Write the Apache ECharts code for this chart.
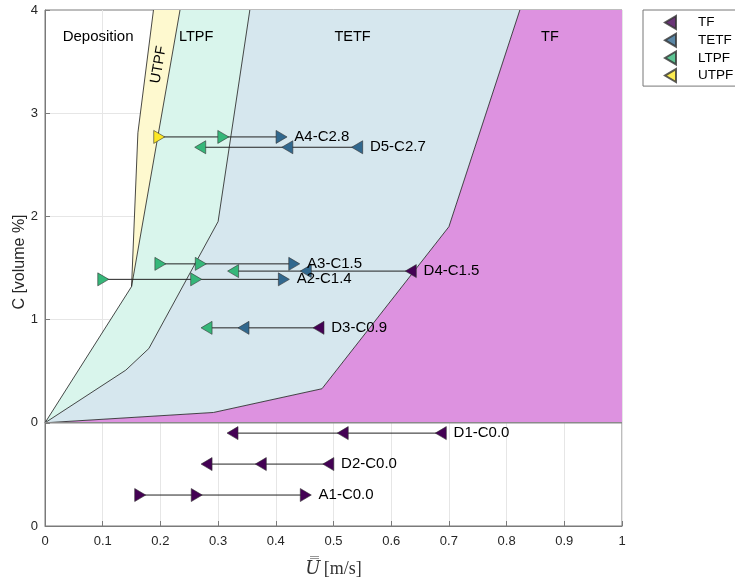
<!DOCTYPE html>
<html>
<head>
<meta charset="utf-8">
<script src="https://cdn.jsdelivr.net/npm/echarts@6/dist/echarts.min.js"></script>
<style>html,body{margin:0;padding:0;background:#fff;}#c{width:735px;height:578px;}</style>
</head>
<body>
<div id="c"></div>
<script>
// ---- data ----
const xTickValues = [0, 0.1, 0.2, 0.3, 0.4, 0.5, 0.6, 0.7, 0.8, 0.9, 1];
const yTickLabels = { '-1': '0', '0': '0', '1': '1', '2': '2', '3': '3', '4': '4' };

// regime boundaries [U, C]
const bDepUTPF   = [[0.150, 1.32], [0.161, 2.81], [0.188, 4]];
const bUTPFLTPF  = [[0, 0], [0.150, 1.32], [0.234, 4]];
const bLTPFTETF  = [[0, 0], [0.140, 0.51], [0.180, 0.72], [0.300, 1.95], [0.355, 4]];
const bTETFTF    = [[0, 0], [0.292, 0.10], [0.480, 0.33], [0.700, 1.90], [0.823, 4]];

const regionNames = ['Deposition', 'UTPF', 'LTPF', 'TETF', 'TF'];
const regionLabelX = [0.092, 0.197, 0.262, 0.533, 0.875];
const regionLabelY = [3.74, 3.47, 3.74, 3.74, 3.74];

const regimes = ['TF', 'TETF', 'LTPF', 'UTPF'];

// experiments
const expNames   = ['A4-C2.8', 'D5-C2.7', 'A3-C1.5', 'D4-C1.5', 'A2-C1.4', 'D3-C0.9', 'D1-C0.0', 'D2-C0.0', 'A1-C0.0'];
const expLevel   = [2.77, 2.67, 1.54, 1.47, 1.39, 0.92, -0.10, -0.40, -0.70];
const expU = [
  [0.198, 0.309, 0.410],
  [0.541, 0.420, 0.269],
  [0.200, 0.270, 0.432],
  [0.634, 0.452, 0.326],
  [0.101, 0.262, 0.414],
  [0.474, 0.344, 0.280],
  [0.686, 0.516, 0.325],
  [0.491, 0.374, 0.280],
  [0.165, 0.263, 0.452]
];
const expRegime = [
  ['UTPF', 'LTPF', 'TETF'],
  ['TETF', 'TETF', 'LTPF'],
  ['LTPF', 'LTPF', 'TETF'],
  ['TF', 'TETF', 'LTPF'],
  ['LTPF', 'LTPF', 'TETF'],
  ['TF', 'TETF', 'LTPF'],
  ['TF', 'TF', 'TF'],
  ['TF', 'TF', 'TF'],
  ['TF', 'TF', 'TF']
];

// ---- styles ----
const FONT = 'Liberation Sans, Arial, sans-serif';
const markerColor = { TF: '#440154', TETF: '#31688e', LTPF: '#35b779', UTPF: '#fde725' };
const fillColor = { TF: '#dd92e0', TETF: '#d6e7ee', LTPF: '#d9f5ec', UTPF: '#fef9cf' };

const rev = a => a.slice().reverse();
const polygons = {
  TF: bTETFTF.concat([[1, 4], [1, 0]]),
  TETF: bLTPFTETF.concat(rev(bTETFTF)),
  LTPF: bUTPFLTPF.concat(rev(bLTPFTETF)),
  UTPF: bDepUTPF.concat(rev(bUTPFLTPF.slice(1)))
};

const series = [];
['TF', 'TETF', 'LTPF', 'UTPF'].forEach(r => {
  const pts = polygons[r];
  series.push({
    type: 'custom', name: 'fill-' + r, silent: true, z: 1, clip: true,
    data: [[0, 0]],
    renderItem: (params, api) => ({
      type: 'polygon',
      shape: { points: pts.map(p => api.coord(p)) },
      style: { fill: fillColor[r] }
    })
  });
});

[bDepUTPF, bUTPFLTPF, bLTPFTETF, bTETFTF].forEach((b, i) => {
  series.push({
    type: 'line', name: 'bnd' + i, silent: true, z: 2, showSymbol: false, symbol: 'none',
    data: b, lineStyle: { color: '#1a1a1a', width: 0.8 }, animation: false
  });
});

// panel divider at C = 0
series.push({
  type: 'line', name: 'divider', silent: true, z: 3, symbol: 'none',
  data: [[0, 0], [1, 0]], lineStyle: { color: '#8a8a8a', width: 1.6 }, animation: false
});

// region labels
series.push({
  type: 'custom', name: 'regionLabels', silent: true, z: 4,
  data: regionNames.map((n, i) => [regionLabelX[i], regionLabelY[i]]),
  renderItem: (params, api) => {
    const n = regionNames[params.dataIndex];
    const p = api.coord([api.value(0), api.value(1)]);
    return {
      type: 'text', x: p[0], y: p[1], rotation: n === 'UTPF' ? 80 * Math.PI / 180 : 0,
      style: { text: n, fill: '#000', font: (n === 'Deposition' ? '15px ' : '14.5px ') + FONT, align: 'center', verticalAlign: 'middle' }
    };
  },
  animation: false
});

// experiments
expNames.forEach((name, k) => {
  const isAcc = name.charAt(0) === 'A';
  const xs = expU[k];
  let labelIdx = 0;
  xs.forEach((x, i) => { if (x > xs[labelIdx]) labelIdx = i; });
  series.push({
    type: 'line', name: name, silent: true, z: 5,
    symbol: 'triangle', symbolSize: [13, 11], showAllSymbol: true,
    symbolRotate: isAcc ? -90 : 90,
    lineStyle: { color: '#222', width: 1 },
    data: xs.map((x, i) => ({
      value: [x, expLevel[k]],
      itemStyle: { color: markerColor[expRegime[k][i]], borderColor: '#333', borderWidth: 0.6 },
      label: { show: i === labelIdx }
    })),
    label: {
      position: 'right', distance: 7, formatter: name,
      fontFamily: FONT, fontSize: 15, color: '#000'
    },
    animation: false
  });
});

// legend dummies
regimes.forEach(r => {
  series.push({
    type: 'scatter', name: r, data: [],
    itemStyle: { color: markerColor[r], borderColor: '#333', borderWidth: 0.5 }
  });
});

const chart = echarts.init(document.getElementById('c'), null, { renderer: 'canvas' });
chart.setOption({
  animation: false,
  backgroundColor: '#fff',
  textStyle: { fontFamily: FONT },
  grid: {
    left: 45, right: 113, top: 10, bottom: 52,
    outerBoundsMode: 'none', containLabel: false,
    show: true, borderColor: '#7a7a7a', borderWidth: 1, backgroundColor: '#fff'
  },
  legend: {
    left: 643, top: 10, orient: 'vertical',
    data: regimes.map(r => ({ name: r, icon: 'path://M11,0 L11,13 L0,6.5 Z' })),
    itemWidth: 11, itemHeight: 13, itemGap: 2.7,
    padding: [5, 40, 3, 21],
    borderColor: '#777', borderWidth: 1, backgroundColor: '#fff',
    textStyle: { fontFamily: FONT, fontSize: 13.5, color: '#000', padding: [0, 0, 0, 17] },
    selectedMode: false
  },
  xAxis: {
    type: 'value', min: 0, max: 1, interval: 0.1,
    axisLine: { show: true, onZero: false, lineStyle: { color: '#7a7a7a' } },
    axisTick: { show: true, inside: true, length: 5, lineStyle: { color: '#7a7a7a' } },
    axisLabel: {
      fontFamily: FONT, fontSize: 13, color: '#262626', margin: 9,
      formatter: v => { const t = xTickValues.find(x => Math.abs(x - v) < 1e-9); return t === undefined ? '' : String(t); }
    },
    splitLine: { show: true, lineStyle: { color: '#e6e6e6', width: 1 } },
    name: '{u|U\u033F} {n|[m/s]}', nameLocation: 'middle', nameGap: 34, nameMoveOverlap: false,
    nameTextStyle: {
      rich: {
        u: { fontFamily: 'DejaVu Serif', fontStyle: 'italic', fontSize: 18, color: '#333' },
        n: { fontFamily: 'Liberation Serif', fontSize: 18, color: '#333' }
      }
    }
  },
  yAxis: {
    type: 'value', min: -1, max: 4, interval: 1,
    axisLine: { show: true, onZero: false, lineStyle: { color: '#7a7a7a' } },
    axisTick: { show: true, inside: true, length: 5, lineStyle: { color: '#7a7a7a' } },
    axisLabel: {
      fontFamily: FONT, fontSize: 13, color: '#262626', margin: 7,
      formatter: v => yTickLabels[String(Math.round(v))] || ''
    },
    splitLine: {
      show: true,
      lineStyle: { color: ['rgba(0,0,0,0)', 'rgba(0,0,0,0)', '#e6e6e6', '#e6e6e6', '#e6e6e6', 'rgba(0,0,0,0)'], width: 1 }
    },
    name: 'C [volume %]', nameLocation: 'middle', nameGap: 17, nameRotate: 90, nameMoveOverlap: false,
    nameTextStyle: { fontFamily: FONT, fontSize: 16, color: '#262626', padding: [0, 0, 0, 12] }
  },
  series: series
});
</script>
</body>
</html>
